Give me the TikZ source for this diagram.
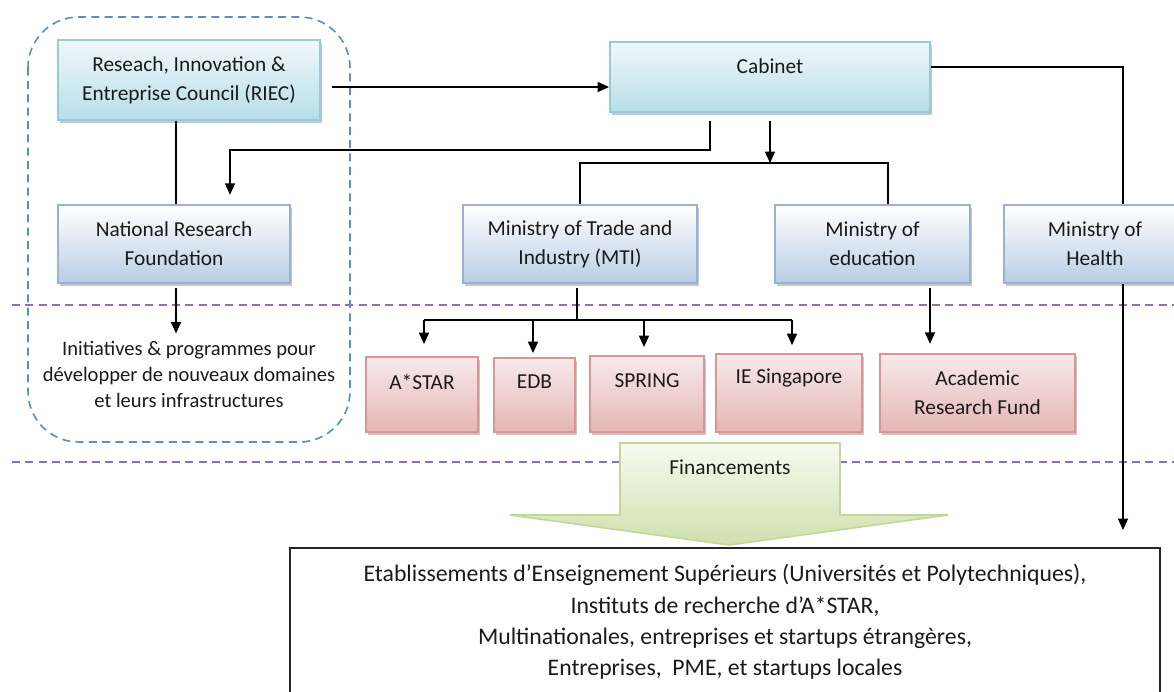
\documentclass[tikz,border=0pt]{standalone}
\usepackage{fontspec}
\setmainfont{Carlito}
\usetikzlibrary{arrows.meta,shadows}
\definecolor{txt}{HTML}{1A1A1A}
\definecolor{cyanB}{HTML}{93CDDD}
\definecolor{cyanT}{HTML}{F0F8FB}
\definecolor{cyanD}{HTML}{B7DEE8}
\definecolor{blueB}{HTML}{95B3D7}
\definecolor{blueD}{HTML}{B9CDE5}
\definecolor{redB}{HTML}{D99694}
\definecolor{redT}{HTML}{F8EAEA}
\definecolor{redD}{HTML}{E4B6B5}
\definecolor{greenB}{HTML}{C3D69B}
\definecolor{greenT}{HTML}{F7FAF0}
\definecolor{greenD}{HTML}{D0E0AE}
\definecolor{dashblue}{HTML}{5B8CC8}
\definecolor{dashpurple}{HTML}{8E72B0}
\newcommand\bxfont{\fontsize{16}{22}\selectfont}
\newcommand\smfont{\fontsize{15.4}{19.5}\selectfont}
\newcommand\btfont{\fontsize{17.8}{23.6}\selectfont}
\begin{document}
\begin{tikzpicture}[x=0.75pt,y=-0.75pt,
  base/.style={draw, line width=1.4pt, inner sep=0pt, align=center, font=\bxfont, text=txt,
    drop shadow={shadow xshift=1.5pt, shadow yshift=-2pt, opacity=0.55, fill=gray!80}},
  cyanbox/.style={base, draw=cyanB, top color=cyanT, bottom color=cyanD},
  bluebox/.style={base, draw=blueB, top color=white, bottom color=blueD},
  redbox/.style={base, draw=redB, top color=redT, bottom color=redD},
  lbl/.style={font=\bxfont, text=txt},
  conn/.style={line width=1pt, draw=black},
  arr/.style={conn, -{Triangle[length=8.5pt,width=7.5pt]}},
  sep/.style={dashpurple, line width=1.3pt, dash pattern=on 6pt off 4pt},
]
\useasboundingbox (0,0) rectangle (1174,692);

% separators and group frame
\draw[sep] (12,305) -- (1174,305);
\draw[sep] (12,462) -- (1174,462);
\draw[dashblue, line width=1.2pt, dash pattern=on 6pt off 4pt, rounded corners=38pt]
  (28,17) rectangle (350,442);

% boxes
\node[cyanbox, minimum width=196.5pt, minimum height=60pt] (riec) at (189,80)
  {Reseach, Innovation \&\\Entreprise Council (RIEC)};
\node[cyanbox, minimum width=240pt, minimum height=52.5pt,
  label={[lbl, name=cabt, yshift=8pt]center:Cabinet}] (cab) at (770,77) {};
\node[bluebox, minimum width=174pt, minimum height=58.5pt] (nrf) at (174,244)
  {National Research\\Foundation};
\node[bluebox, minimum width=175.5pt, minimum height=58.5pt] (mti) at (580,244)
  {Ministry of Trade and\\Industry (MTI)};
\node[bluebox, minimum width=146.25pt, minimum height=58.5pt] (moe) at (872.5,244)
  {Ministry of\\education};
\node[bluebox, minimum width=157.5pt, minimum height=58.5pt,
  label={[lbl, name=moht, xshift=-10.5pt, align=center]center:Ministry of\\Health}] (moh) at (1109,244) {};

\node[redbox, minimum width=84pt, minimum height=56.25pt,
  label={[lbl, name=astart, yshift=9.4pt]center:A*STAR}] (astar) at (422,394.5) {};
\node[redbox, minimum width=60.75pt, minimum height=55.5pt,
  label={[lbl, name=edbt, yshift=9.75pt]center:EDB}] (edb) at (534.5,395) {};
\node[redbox, minimum width=85.5pt, minimum height=57pt,
  label={[lbl, name=springt, yshift=9.75pt]center:SPRING}] (spring) at (647,394) {};
\node[redbox, minimum width=109.5pt, minimum height=58.5pt,
  label={[lbl, name=iet, yshift=11.25pt]center:IE Singapore}] (ie) at (789,393) {};
\node[redbox, minimum width=146.25pt, minimum height=58.5pt] (arf) at (977.5,393)
  {Academic\\Research Fund};

\node[font=\smfont, text=txt, align=center] (init) at (189,374)
  {Initiatives \& programmes pour\\développer de nouveaux domaines\\et leurs infrastructures};

% funding arrow
\path[draw=greenB, line width=1.2pt, top color=greenT, bottom color=greenD]
  (620,443) -- (840,443) -- (840,515) -- (948,515) -- (729,545) -- (510,515) -- (620,515) -- cycle;
\node[lbl] (fin) at (730,467) {Financements};

% bottom box
\node[draw=black!85, line width=1pt, minimum width=652.5pt, minimum height=111pt,
  font=\btfont, text=txt, align=center] (bot) at (725,622)
  {Etablissements d’Enseignement Supérieurs (Universités et Polytechniques),\\
   Instituts de recherche d’A*STAR,\\
   Multinationales, entreprises et startups étrangères,\\
   Entreprises,\ \ PME, et startups locales};

% coordinates
\coordinate (r1) at (332,87);
\coordinate (j1) at (710,150);
\coordinate (j1b) at (230,150);
\coordinate (j2) at (770,163);
\coordinate (j2r) at (888,163);
\coordinate (j3) at (1123,67);
\coordinate (j4) at (1123,530);
\coordinate (b1) at (424,320);
\coordinate (b2) at (533,320);
\coordinate (b3) at (644,320);
\coordinate (b4) at (792,320);
\coordinate (e1) at (930,300);

% connectors
\draw[arr] (r1) -- (r1 -| cab.west);
\draw[conn] (riec.south -| 176,0) -- (nrf.north -| 176,0);
\draw[arr] ([yshift=-6pt]cab.south -| j1) -- (j1) -- (j1b) -- ([yshift=7pt]j1b |- nrf.north);
\draw[arr] ([yshift=-6pt]cab.south -| j2) -- (j2);
\draw[conn] (mti.north -| 580,0) |- (j2r) -- (j2r |- moe.north);
\draw[conn] (j3 -| cab.east) -- (j3) -- (j3 |- moh.north);
\draw[arr] (moh.south -| j4) -- (j4);
\draw[arr] ([yshift=-3pt]nrf.south -| 176,0) -- ([yshift=2pt]init.north -| 176,0);
\draw[conn] ([yshift=-3pt]mti.south -| 577,0) -- (b1 -| 577,0);
\draw[conn] (b1) -- (b4);
\draw[arr] (b1) -- ([yshift=9pt]b1 |- astar.north);
\draw[arr] (b2) -- ([yshift=3pt]b2 |- edb.north);
\draw[arr] (b3) -- ([yshift=6pt]b3 |- spring.north);
\draw[arr] (b4) -- ([yshift=6pt]b4 |- ie.north);
\draw[arr] ([yshift=-3pt]moe.south -| e1) -- ([yshift=7pt]e1 |- arf.north);
\end{tikzpicture}
\end{document}
